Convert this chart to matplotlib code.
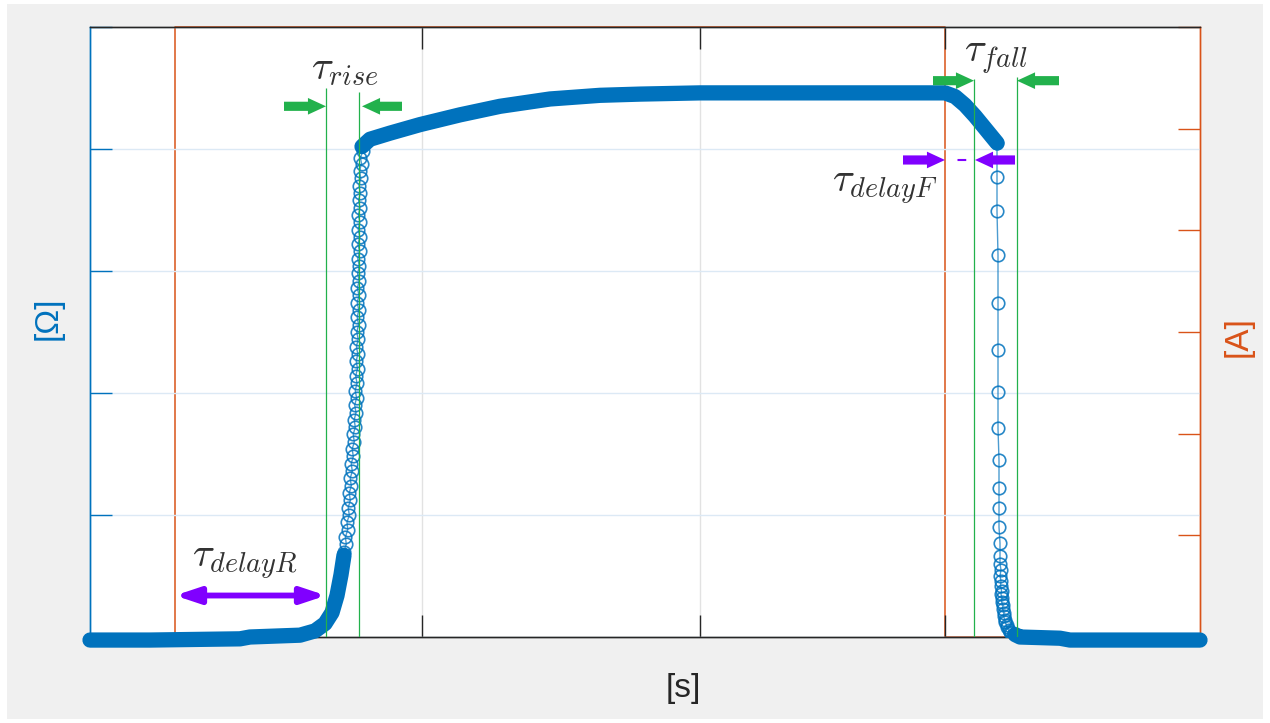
import matplotlib.pyplot as plt
from matplotlib.patches import Rectangle

plt.rcParams['mathtext.fontset'] = 'cm'

blue = '#0072BD'
orange = '#D95319'
green = '#22B14C'
purple = '#8000FF'
dark = '#262626'

# resistance [ohm] vs time
# dense parts (solid band of overlapping markers)
t_base = [0.0, 6.0, 15.0, 16.0, 21.0, 22.5, 23.5, 24.2, 24.7, 25.1, 25.4]
r_base = [-0.025, -0.025, -0.015, 0.0, 0.015, 0.05, 0.11, 0.2, 0.34, 0.51, 0.67]

t_top = [27.2, 28.0, 30.0, 33.0, 37.0, 41.0, 46.0, 51.0, 55.0, 61.0, 85.5,
         86.5, 87.5, 88.5, 89.5, 90.3, 90.7]
r_top = [4.02, 4.08, 4.13, 4.20, 4.28, 4.35, 4.41, 4.44, 4.45, 4.46, 4.46,
         4.43, 4.36, 4.27, 4.17, 4.09, 4.05]

t_tail = [92.5, 93.0, 97.0, 98.0, 111.0]
r_tail = [0.02, 0.0, -0.01, -0.025, -0.025]

# sparse parts (single circles visible)
t_rise = [25.37, 25.63, 25.54, 25.78, 25.70, 25.93, 25.82, 26.03, 25.92, 26.13,
          26.02, 26.23, 26.12, 26.33, 26.22, 26.43, 26.32, 26.53, 26.42, 26.60,
          26.47, 26.66, 26.52, 26.70, 26.57, 26.75, 26.62, 26.78, 26.64, 26.82,
          26.68, 26.86, 26.72, 26.88, 26.72, 26.90, 26.74, 26.92, 26.76, 26.94,
          26.78, 26.96, 26.80, 26.98, 26.82, 26.98, 26.84, 27.00, 26.86, 27.04,
          26.90, 27.08, 26.95, 27.15, 27.04, 27.28]
r_rise = [0.70, 0.76, 0.82, 0.88, 0.94, 1.00, 1.06, 1.12, 1.18, 1.24,
          1.30, 1.36, 1.42, 1.48, 1.54, 1.60, 1.66, 1.72, 1.78, 1.84,
          1.90, 1.96, 2.02, 2.08, 2.14, 2.20, 2.26, 2.32, 2.38, 2.44,
          2.50, 2.56, 2.62, 2.68, 2.74, 2.80, 2.86, 2.92, 2.98, 3.04,
          3.10, 3.16, 3.22, 3.28, 3.34, 3.40, 3.46, 3.52, 3.58, 3.64,
          3.70, 3.76, 3.82, 3.88, 3.93, 3.98]

t_fall = [90.7, 90.7, 90.7, 90.8, 90.8, 90.8, 90.8, 90.8, 90.9, 90.9, 90.9, 90.9,
          91.0, 91.0, 91.0, 91.1, 91.0, 91.1, 91.05, 91.15, 91.1, 91.2, 91.15,
          91.3, 91.25, 91.4, 91.35, 91.5, 91.5, 91.65, 91.7, 91.85, 91.95,
          92.1, 92.3]
r_fall = [4.05, 3.77, 3.49, 3.13, 2.74, 2.35, 2.01, 1.71, 1.45, 1.22, 1.06, 0.90,
          0.77, 0.66, 0.60, 0.55, 0.50, 0.46, 0.42, 0.38, 0.35, 0.32, 0.29,
          0.26, 0.23, 0.20, 0.17, 0.14, 0.12, 0.10, 0.08, 0.06, 0.04,
          0.03, 0.02]

# current [A] pulse
t_cur = [0.0, 8.5, 8.5, 85.5, 85.5, 111.0]
i_cur = [0, 0, 6, 6, 0, 0]

# event times used for the annotations
t_on, t_r0, t_r1 = 8.5, 23.6, 26.9
t_off, t_f0, t_f1 = 85.5, 88.4, 92.7

fig = plt.figure(figsize=(12.7, 7.23), dpi=100, facecolor='white')
fig.add_artist(Rectangle((7 / 1270, 4 / 723), 1256 / 1270, 715 / 723,
                         transform=fig.transFigure, facecolor='#f0f0f0',
                         edgecolor='none', zorder=-5))

ax = fig.add_axes([90 / 1270, 86 / 723, 1110 / 1270, 610 / 723])
ax2 = ax.twinx()
ax.set_zorder(ax2.get_zorder() + 1)
ax.patch.set_visible(False)
ax2.patch.set_visible(True)
ax2.patch.set_facecolor('white')

# current
ax2.plot(t_cur, i_cur, color=orange, lw=1.1, clip_on=False)
ax2.set_ylim(0, 6)
ax2.set_yticks(range(7))
ax2.tick_params(axis='y', direction='in', length=16, width=1, colors=orange,
                labelright=False)

# resistance
for tt, rr in [(t_base, r_base), (t_top, r_top), (t_tail, r_tail)]:
    ax.plot(tt, rr, color=blue, lw=11, solid_capstyle='round',
            solid_joinstyle='round', clip_on=False, zorder=3)
for tt, rr in [(t_rise, r_rise), (t_fall, r_fall)]:
    ax.plot(tt, rr, '-', color=blue, lw=1.0, alpha=0.7, zorder=3)
    ax.plot(tt, rr, 'o', color=blue, mfc='none', ms=9, mew=1.2, zorder=3,
            alpha=0.85)

ax.set_xlim(0, 111)
ax.set_ylim(0, 5)
ax.set_xticks([33.2, 61.0, 85.5])
ax.set_yticks(range(6))
ax.set_axisbelow(True)
ax.yaxis.grid(True, color='#dce9f5', lw=1)
ax.xaxis.grid(True, color='#e2e2e2', lw=1)
# the last x grid line sits under the orange pulse edge
ax.xaxis.get_gridlines()[-1].set_visible(False)
ax.tick_params(axis='x', direction='in', length=16, width=1, color=dark,
               top=True, labelbottom=False)
ax.tick_params(axis='y', direction='in', length=16, width=1, color=blue,
               labelleft=False)

for a in (ax, ax2):
    a.spines['left'].set_color(blue)
    a.spines['right'].set_color(orange)
    a.spines['top'].set_color(dark)
    a.spines['bottom'].set_color(dark)
    for s in a.spines.values():
        s.set_linewidth(1.0)

# green markers for rise / fall time
ax.vlines([t_r0, t_r1], 0, [4.50, 4.47], color=green, lw=0.9, zorder=4)
ax.vlines([t_f0, t_f1], 0, [4.57, 4.59], color=green, lw=0.9, zorder=4)

simple = 'simple,head_length=0.65,head_width=0.6,tail_width=0.33'


def arrow(x0, x1, y, col):
    ax.annotate('', xy=(x1, y), xytext=(x0, y),
                arrowprops=dict(arrowstyle=simple, mutation_scale=20, color=col,
                                shrinkA=0, shrinkB=0, lw=0), zorder=5)


arrow(19.4, t_r0, 4.35, green)
arrow(31.2, t_r1 + 0.3, 4.35, green)
arrow(84.3, t_f0, 4.56, green)
arrow(96.9, t_f1, 4.56, green)

# purple delay arrows
ax.annotate('', xy=(t_r0, 0.34), xytext=(t_on, 0.34),
            arrowprops=dict(arrowstyle='<|-|>,head_length=0.72,head_width=0.24',
                            mutation_scale=20, color=purple, lw=4.2,
                            shrinkA=0, shrinkB=0), zorder=5)
arrow(81.3, t_off, 3.91, purple)
arrow(92.5, 88.5, 3.91, purple)
ax.plot([t_off, 88.5], [3.91, 3.91], color=purple, lw=1.5,
        ls=(4.2, (4.2, 6.0)), zorder=5)

# tau labels
tc = '#333333'
fs = 29
ax.text(22.1, 4.57, r'$\tau_{rise}$', fontsize=fs, color=tc, ha='left', va='baseline')
ax.text(87.4, 4.71, r'$\tau_{fall}$', fontsize=fs, color=tc, ha='left', va='baseline')
ax.text(74.2, 3.65, r'$\tau_{delayF}$', fontsize=fs, color=tc, ha='left', va='baseline')
ax.text(10.2, 0.57, r'$\tau_{delayR}$', fontsize=fs, color=tc, ha='left', va='baseline')

# axis labels
lab = dict(fontsize=24, family='Liberation Sans', ha='center', va='center')
fig.text(48 / 1270, 1 - 318 / 723, '[\u03a9]', rotation=90, color=blue, **lab)
fig.text(1238 / 1270, 1 - 337 / 723, '[A]', rotation=90, color=orange, **lab)
fig.text(683 / 1270, 1 - 688 / 723, '[s]', color=dark, **lab)

fig.savefig('out.png', dpi=100)
